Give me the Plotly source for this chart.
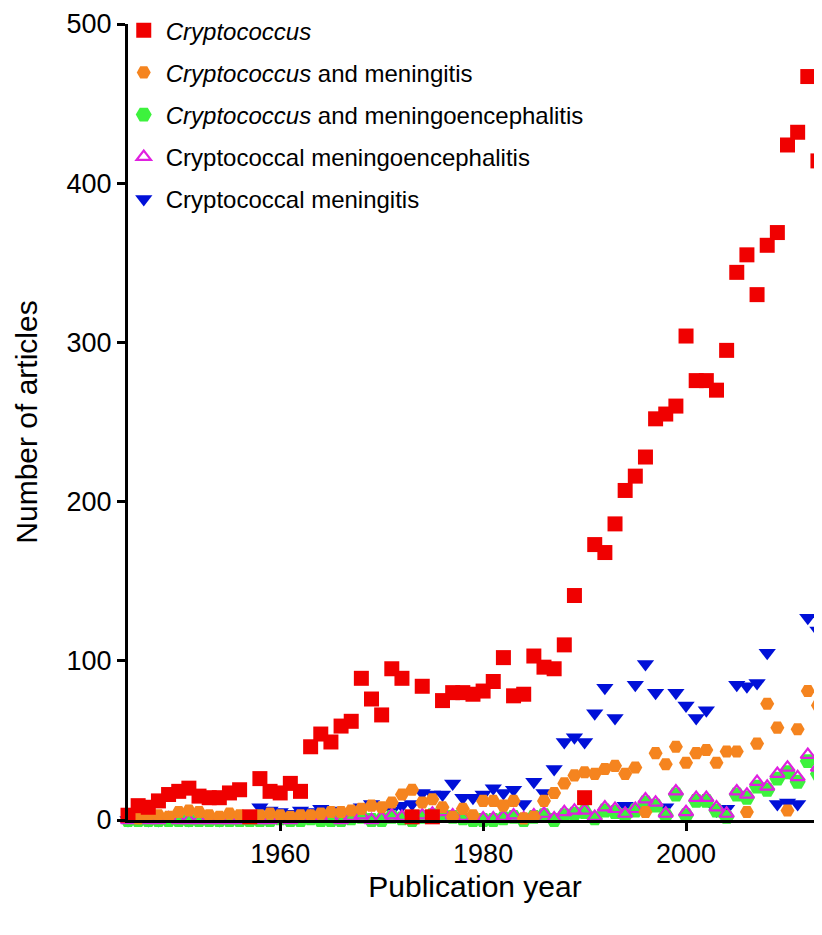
import plotly.graph_objects as go

years = list(range(1945, 2015))

cryptococcus = [3, 9, 8, 12, 16, 18, 20, 15, 14, 14,
                17, 19, 2, 26, 18, 17, 23, 18, 46, 54,
                49, 59, 62, 89, 76, 66, 95, 89, 2, 84,
                2, 75, 80, 80, 79, 81, 87, 102, 78, 79,
                103, 96, 95, 110, 141, 14, 173, 168, 186, 207,
                216, 228, 252, 255, 260, 304, 276, 276, 270, 295,
                344, 355, 330, 361, 369, 424, 432, 467, 414, 460]

crypto_meningitis = [2, 1, 2, 3, 2, 5, 6, 5, 3, 2,
                     4, 3, 2, 3, 4, 3, 2, 3, 3, 4,
                     5, 5, 6, 7, 9, 8, 11, 16, 19, 11,
                     13, 8, 2, 7, 3, 12, 12, 9, 12, 1,
                     2, 12, 17, 23, 28, 30, 29, 32, 34, 29,
                     33, 5, 42, 35, 46, 36, 42, 44, 36, 43,
                     43, 5, 48, 73, 58, 6, 57, 81, 72]

crypto_meningoenc = [0, 0, 0, 0, 0, 0, 0, 0, 0, 0,
                     0, 0, 0, 0, 0, 1, 0, 0, 1, 0,
                     0, 0, 1, 2, 0, 0, 2, 1, 0, 2,
                     3, 4, 2, 1, 0, 0, 0, 1, 2, 0,
                     2, 3, 0, 3, 4, 5, 1, 6, 5, 3,
                     6, 11, 9, 3, 16, 3, 12, 12, 6, 2,
                     16, 14, 21, 19, 26, 30, 24, 37, 29]

cryptococcal_meningoenc = [0, 1, 0, 0, 1, 0, 0, 0, 0, 0,
                           0, 0, 1, 0, 0, 1, 0, 1, 2, 1,
                           1, 0, 2, 3, 0, 1, 3, 2, 1, 3,
                           4, 5, 3, 2, 1, 1, 1, 2, 3, 1,
                           3, 4, 1, 5, 6, 6, 2, 8, 7, 4,
                           7, 13, 11, 4, 18, 5, 14, 14, 8, 4,
                           18, 16, 24, 21, 29, 33, 27, 41, 33]

cryptococcal_meningitis = [0, 1, 0, 0, 1, 1, 0, 1, 1, 0,
                           1, 1, 2, 8, 6, 5, 4, 6, 5, 7,
                           6, 3, 4, 8, 10, 8, 6, 9, 10, 17,
                           16, 16, 23, 14, 14, 16, 20, 17, 19, 10,
                           24, 17, 32, 49, 52, 49, 67, 83, 64, 9,
                           85, 98, 80, 8, 80, 72, 64, 69, 6, 7,
                           85, 84, 86, 105, 10, 11, 10, 127, 119]

x_ticks = [1960, 1980, 2000, 2020]
y_ticks = [0, 100, 200, 300, 400, 500]

FONT = "Liberation Sans, Arial, Helvetica, sans-serif"

series = [
    # (name, values, symbol, color, size, line width, legend rank)
    ("Cryptococcal meningitis", cryptococcal_meningitis, "triangle-down", "#0010d8", 15, 0, 5),
    ("<i>Cryptococcus</i> and meningoencephalitis", crypto_meningoenc, "hexagon2", "#3df23d", 16, 0, 3),
    ("Cryptococcal meningoencephalitis", cryptococcal_meningoenc, "triangle-up-open", "#e020e0", 12.5, 2.2, 4),
    ("<i>Cryptococcus</i> and meningitis", crypto_meningitis, "hexagon2", "#f5841f", 14, 0, 2),
    ("<i>Cryptococcus</i>", cryptococcus, "square", "#f00000", 15, 0, 1),
]

fig = go.Figure()
for name, vals, sym, col, size, lw, rank in series:
    fig.add_trace(go.Scatter(
        x=years[:len(vals)], y=vals, mode="markers", name=name,
        legendgroup=name, legendrank=rank,
        marker=dict(symbol=sym, color=col, size=size,
                    line=dict(width=lw, color=col)),
        cliponaxis=False,
    ))

# the page body adds an 8px offset, so the figure is sized to compensate
fig.update_layout(
    width=814, height=927,
    margin=dict(l=120, r=0, t=12, b=115),
    paper_bgcolor="white", plot_bgcolor="white",
    font=dict(family=FONT, color="black"),
    showlegend=True,
    legend=dict(
        x=-0.009, y=1.02, xanchor="left", yanchor="top",
        font=dict(size=24, family=FONT, color="black"),
        bgcolor="rgba(0,0,0,0)", tracegroupgap=8,
        itemsizing="trace", itemwidth=34,
    ),
    xaxis=dict(
        range=[1945, 2013.4], tickvals=x_ticks, ticktext=[str(v) for v in x_ticks],
        showline=True, linecolor="black", linewidth=3,
        ticks="outside", ticklen=8, tickwidth=3, tickcolor="black",
        showgrid=False, zeroline=False,
        tickfont=dict(size=27, family=FONT),
        title=dict(text="Publication year", font=dict(size=30, family=FONT), standoff=8),
    ),
    yaxis=dict(
        range=[0, 500], tickvals=y_ticks,
        showline=True, linecolor="black", linewidth=3,
        ticks="outside", ticklen=8, tickwidth=3, tickcolor="black",
        showgrid=False, zeroline=False,
        tickfont=dict(size=27, family=FONT),
        title=dict(text="Number of articles", font=dict(size=30, family=FONT), standoff=21),
    ),
)

fig.write_html("out.html")
